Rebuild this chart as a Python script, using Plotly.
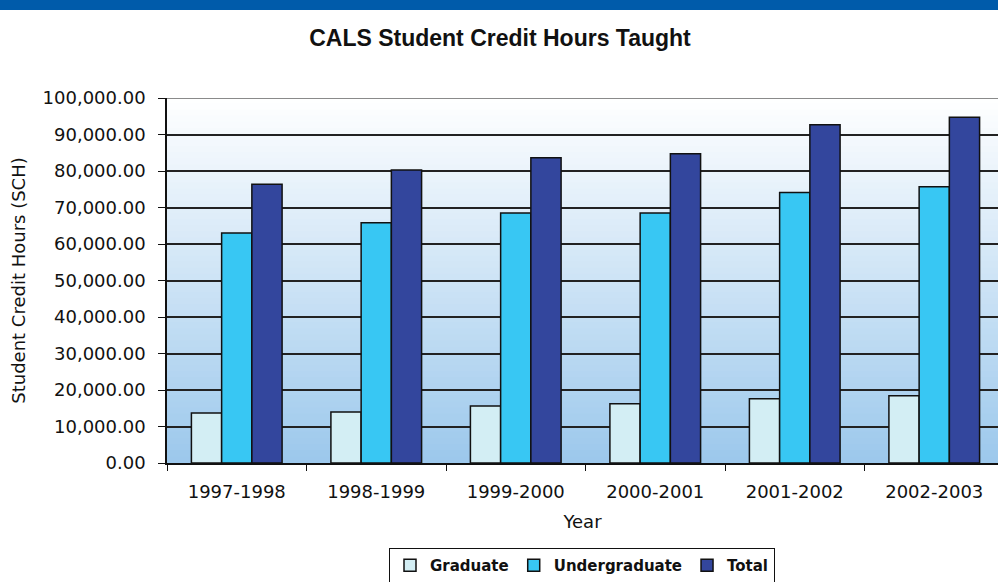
import plotly.graph_objects as go

years = ["1997-1998", "1998-1999", "1999-2000", "2000-2001", "2001-2002", "2002-2003"]
graduate = [13700, 14000, 15600, 16200, 17600, 18400]
undergraduate = [63000, 65800, 68500, 68500, 74100, 75700]
total = [76400, 80300, 83600, 84700, 92700, 94700]
y_ticks = [0, 10000, 20000, 30000, 40000, 50000, 60000, 70000, 80000, 90000, 100000]
y_tick_labels = ["{:,.2f}".format(v) for v in y_ticks]

fig = go.Figure()
line = dict(color="#111111", width=1.5)
fig.add_trace(go.Bar(name="Graduate", x=years, y=graduate, marker=dict(color="#D3EEF4", line=line)))
fig.add_trace(go.Bar(name="Undergraduate", x=years, y=undergraduate, marker=dict(color="#38C7F3", line=line)))
fig.add_trace(go.Bar(name="Total", x=years, y=total, marker=dict(color="#33469D", line=line)))

PLOT_H = 365.0
shapes = []
n = 60
top = (255, 255, 255)
bot = (156, 200, 236)
for i in range(n):
    t = (i + 0.5) / n
    c = tuple(round(top[k] + (bot[k] - top[k]) * t) for k in range(3))
    shapes.append(dict(type="rect", xref="paper", yref="paper", x0=0, x1=1,
                       y0=1 - (i + 1) / n, y1=1 - i / n + 0.002,
                       fillcolor="rgb(%d,%d,%d)" % c, line=dict(width=0), layer="below"))
# grey top gridline
shapes.append(dict(type="line", xref="paper", yref="y", x0=0, x1=1, y0=100000, y1=100000,
                   line=dict(color="#8a8a8a", width=2), layer="above"))
# top blue band
shapes.append(dict(type="rect", xref="paper", yref="paper", x0=-0.5, x1=1.5,
                   y0=1 + (98 - 10) / PLOT_H, y1=1 + 110 / PLOT_H,
                   fillcolor="#005BAA", line=dict(width=0), layer="above"))

fig.update_layout(
    width=998, height=582,
    margin=dict(l=167, r=0, t=98, b=119, autoexpand=False),
    paper_bgcolor="white",
    plot_bgcolor="rgba(0,0,0,0)",
    shapes=shapes,
    barmode="group", bargap=0.35, bargroupgap=0,
    title=dict(text="<b>CALS Student Credit Hours Taught</b>", x=0.501, xanchor="center",
               y=1 - 38 / 582, yanchor="middle",
               font=dict(family="Liberation Sans, Arial", size=23, color="#111111")),
    font=dict(family="DejaVu Sans", color="#111111"),
    xaxis=dict(range=[-0.5, 5.457], showgrid=False, showline=True, linecolor="#111111", linewidth=1.5,
               ticks="outside", ticklen=6, tickcolor="#111111", tickson="boundaries",
               automargin=False, ticklabelstandoff=12,
               tickfont=dict(family="DejaVu Sans", size=18),
               title=dict(text="Year", font=dict(family="DejaVu Sans", size=18), standoff=14)),
    yaxis=dict(range=[0, 100000], tickvals=y_ticks, ticktext=y_tick_labels,
               showgrid=True, gridcolor="#222222", gridwidth=1.5,
               showline=True, linecolor="#111111", linewidth=1.5,
               ticks="outside", ticklen=7, tickcolor="#111111", ticklabelstandoff=9,
               automargin=False,
               tickfont=dict(family="DejaVu Sans", size=18), zeroline=False,
               title=dict(text="Student Credit Hours (SCH)", font=dict(family="DejaVu Sans", size=18),
                          standoff=12)),
    legend=dict(orientation="h", x=0.4994, xanchor="center", y=(463 - 583) / PLOT_H, yanchor="bottom",
                bordercolor="#111111", borderwidth=1, bgcolor="white",
                font=dict(family="DejaVu Sans", size=15, weight="bold"), itemwidth=30,
                traceorder="normal"),
    showlegend=True,
)

fig.write_html("out.html", config={"displayModeBar": False},
               post_script="document.body.style.margin='0';")
